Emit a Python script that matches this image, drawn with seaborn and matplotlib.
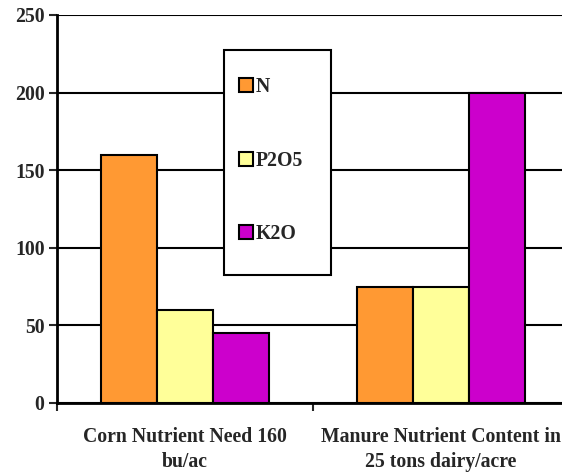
import pandas as pd
import numpy as np
import matplotlib.pyplot as plt
import seaborn as sns
from matplotlib.ticker import FixedLocator
from matplotlib.patches import Rectangle

categories = ['Corn Nutrient Need 160\nbu/ac', 'Manure Nutrient Content in\n25 tons dairy/acre']
nutrients = ['N', 'P2O5', 'K2O']
n_values = [160, 75]
p2o5_values = [60, 75]
k2o_values = [45, 200]
y_ticks = [0, 50, 100, 150, 200, 250]
colors = ['#FF9933', '#FFFF99', '#CC00CC']

data = pd.DataFrame({
    'category': categories * 3,
    'nutrient': [n for n in nutrients for _ in categories],
    'value': n_values + p2o5_values + k2o_values,
})

sns.set_style('white')
plt.rcParams['font.family'] = ['Liberation Serif', 'DejaVu Serif']
plt.rcParams['font.weight'] = 'bold'
FS = 14.2

fig = plt.figure(figsize=(5.62, 4.72), dpi=100)
# axes run slightly past the right edge of the picture, as in the original
ax = fig.add_axes([57 / 562, 69 / 472, 512 / 562, (403 - 15) / 472])

sns.barplot(data=data, x='category', y='value', hue='nutrient', palette=colors,
            width=0.66, edgecolor='black', linewidth=1.5, gap=0, saturation=1, ax=ax)

ax.set_ylim(0, 250)
ax.set_xlim(-0.5, 1.5)
ax.set_yticks(y_ticks)
ax.set_yticklabels([str(t) for t in y_ticks], fontsize=FS, fontweight='bold')
ax.set_xticks([0, 1])
ax.set_xticklabels(categories, fontsize=FS, fontweight='bold', linespacing=1.38)
ax.yaxis.grid(True, color='black', linewidth=1.5)
ax.set_axisbelow(True)
ax.set_xlabel('')
ax.set_ylabel('')

for side in ['top', 'right']:
    ax.spines[side].set_visible(False)
for side in ['left', 'bottom']:
    ax.spines[side].set_linewidth(2)
    ax.spines[side].set_color('black')

ax.tick_params(axis='y', which='major', length=6, width=1.5, direction='out', left=True, pad=3)
ax.tick_params(axis='x', which='major', length=0, pad=17)
ax.xaxis.set_minor_locator(FixedLocator([-0.5, 0.5, 1.5]))
ax.tick_params(axis='x', which='minor', length=6, width=1.5, direction='out', bottom=True)

# legend box drawn separately so its padding can differ top/side
ax.add_patch(Rectangle((224 / 562, 1 - 275 / 472), 107 / 562, 225 / 472,
                       transform=fig.transFigure, facecolor='white', edgecolor='black',
                       linewidth=1.5, zorder=4, clip_on=False))
ax.legend(loc='upper left', bbox_to_anchor=(239 / 562, 1 - 77 / 472),
          bbox_transform=fig.transFigure, frameon=False,
          prop={'weight': 'bold', 'size': FS},
          handlelength=0.7, handleheight=0.7, handletextpad=0.15,
          labelspacing=2.72, borderpad=0, borderaxespad=0, title=None)
leg = ax.get_legend()
leg.set_zorder(5)
for h in leg.legend_handles:
    h.set_edgecolor('black')
    h.set_linewidth(1.5)

plt.savefig('out.png', dpi=100)
